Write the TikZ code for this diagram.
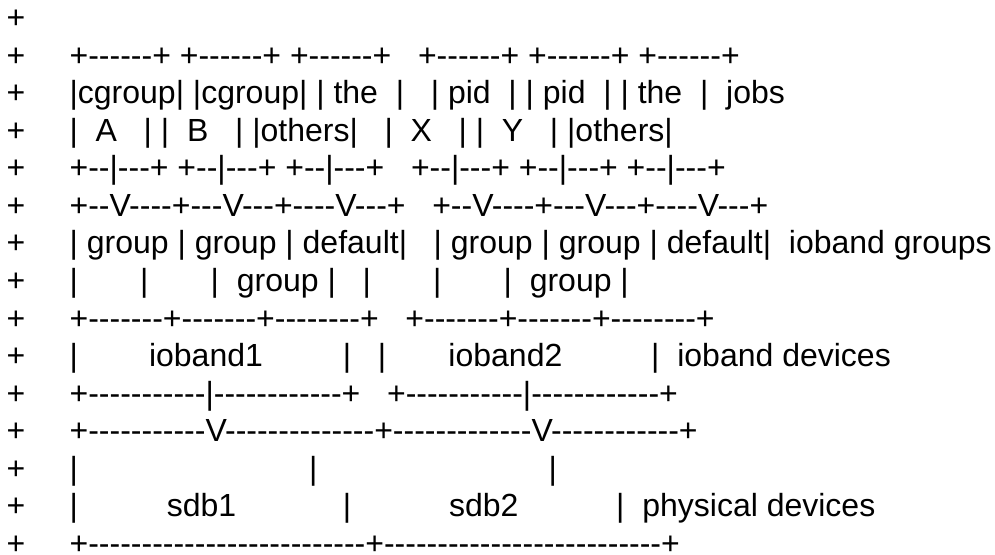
\documentclass[tikz,border=0pt]{standalone}
\usepackage{fontspec}
\newfontfamily\asc{Liberation Sans}[Ligatures=TeXOff]
\newcommand\Sp[1]{\hskip#1\fontdimen2\font\relax}
\begin{document}
\begin{tikzpicture}[x=1pt,y=-1pt,
  ln/.style={anchor=base west, inner sep=0pt, outer sep=0pt,
             font=\asc\fontsize{32}{37.6}\selectfont}]
\fill[white] (0,0) rectangle (995,554);
\useasboundingbox (0,0) rectangle (995,554);
\node[ln] (l1)  at (6.5,28.5)   {+};
\node[ln] (l2)  at (6.5,66.07)  {+\Sp{5}+------+\Sp{1}+------+\Sp{1}+------+\Sp{3}+------+\Sp{1}+------+\Sp{1}+------+};
\node[ln] (l3)  at (6.5,103.64) {+\Sp{5}|cgroup|\Sp{1}|cgroup|\Sp{1}|\Sp{1}the\Sp{2}|\Sp{3}|\Sp{1}pid\Sp{2}|\Sp{1}|\Sp{1}pid\Sp{2}|\Sp{1}|\Sp{1}the\Sp{2}|\Sp{2}jobs};
\node[ln] (l4)  at (6.5,141.21) {+\Sp{5}|\Sp{2}A\Sp{3}|\Sp{1}|\Sp{2}B\Sp{3}|\Sp{1}|others|\Sp{3}|\Sp{2}X\Sp{3}|\Sp{1}|\Sp{2}Y\Sp{3}|\Sp{1}|others|};
\node[ln] (l5)  at (6.5,178.78) {+\Sp{5}+--|---+\Sp{1}+--|---+\Sp{1}+--|---+\Sp{3}+--|---+\Sp{1}+--|---+\Sp{1}+--|---+};
\node[ln] (l6)  at (6.5,216.35) {+\Sp{5}+--V----+---V---+----V---+\Sp{3}+--V----+---V---+----V---+};
\node[ln] (l7)  at (6.5,253.92) {+\Sp{5}|\Sp{1}group\Sp{1}|\Sp{1}group\Sp{1}|\Sp{1}default|\Sp{3}|\Sp{1}group\Sp{1}|\Sp{1}group\Sp{1}|\Sp{1}default|\Sp{2}ioband\Sp{1}groups};
\node[ln] (l8)  at (6.5,291.49) {+\Sp{5}|\Sp{7}|\Sp{7}|\Sp{2}group\Sp{1}|\Sp{3}|\Sp{7}|\Sp{7}|\Sp{2}group\Sp{1}|};
\node[ln] (l9)  at (6.5,329.06) {+\Sp{5}+-------+-------+--------+\Sp{3}+-------+-------+--------+};
\node[ln] (l10) at (6.5,366.63) {+\Sp{5}|\Sp{8}ioband1\Sp{9}|\Sp{3}|\Sp{7}ioband2\Sp{10}|\Sp{2}ioband\Sp{1}devices};
\node[ln] (l11) at (6.5,404.2)  {+\Sp{5}+-----------|------------+\Sp{3}+-----------|------------+};
\node[ln] (l12) at (6.5,441.77) {+\Sp{5}+-----------V--------------+-------------V------------+};
\node[ln] (l13) at (6.5,479.34) {+\Sp{5}|\Sp{26}|\Sp{26}|};
\node[ln] (l14) at (6.5,516.91) {+\Sp{5}|\Sp{10}sdb1\Sp{12}|\Sp{11}sdb2\Sp{11}|\Sp{2}physical\Sp{1}devices};
\node[ln] (l15) at (6.5,554.48) {+\Sp{5}+--------------------------+--------------------------+};
\end{tikzpicture}
\end{document}
